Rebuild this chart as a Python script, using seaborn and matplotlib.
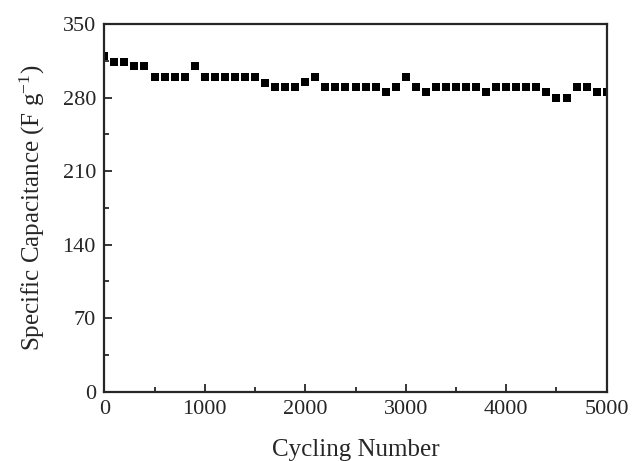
import numpy as np
import pandas as pd
import matplotlib
matplotlib.use("Agg")
import matplotlib.pyplot as plt
from matplotlib.ticker import MultipleLocator
import seaborn as sns

# Data
cycles = list(range(0, 5001, 100))
capacitance = [
    320, 314, 314, 310, 310, 300, 300, 300, 300, 310,
    300, 300, 300, 300, 300, 300, 294, 290, 290, 290,
    295, 300, 290, 290, 290, 290, 290, 290, 285, 290,
    300, 290, 285, 290, 290, 290, 290, 290, 285, 290,
    290, 290, 290, 290, 285, 280, 280, 290, 290, 285,
    285,
]
x_ticks = [0, 1000, 2000, 3000, 4000, 5000]
y_ticks = [0, 70, 140, 210, 280, 350]

df = pd.DataFrame({"cycle": cycles, "cap": capacitance})

sns.set_style("ticks")
plt.rcParams["font.family"] = ["Liberation Serif", "DejaVu Serif"]
plt.rcParams["mathtext.fontset"] = "stix"

fig = plt.figure(figsize=(6.32, 4.61), dpi=100)
ax = fig.add_axes([0.165, 0.150, 0.795, 0.798])

sns.scatterplot(data=df, x="cycle", y="cap", marker="s", color="black",
                s=38, edgecolor="black", linewidth=0, ax=ax)

ax.set_xlim(0, 5000)
ax.set_ylim(0, 350)
ax.set_xticks(x_ticks)
ax.set_yticks(y_ticks)
ax.xaxis.set_minor_locator(MultipleLocator(500))
ax.yaxis.set_minor_locator(MultipleLocator(35))
ax.tick_params(which="both", direction="in", labelsize=16, width=1.3,
               top=False, right=False)
ax.tick_params(which="major", length=6, pad=6)
ax.tick_params(which="minor", length=3.5)
for sp in ax.spines.values():
    sp.set_linewidth(1.6)
    sp.set_visible(True)

ax.set_xlabel("Cycling Number", fontsize=18, labelpad=14)
ax.set_ylabel("Specific Capacitance (F g$^{\\mathregular{-1}}$)", fontsize=18,
              labelpad=11)

fig.savefig("out.png", dpi=100)
